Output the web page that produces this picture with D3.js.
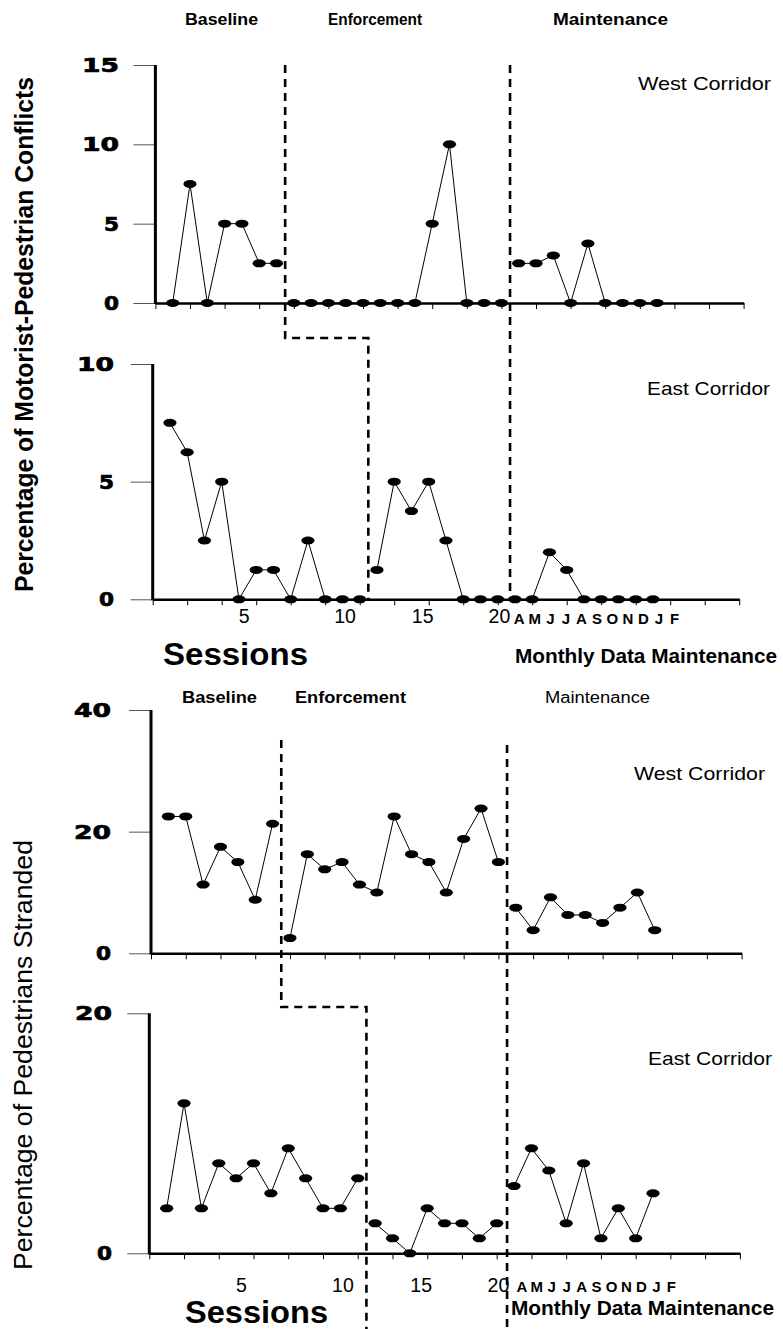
<!DOCTYPE html>
<html>
<head>
<meta charset="utf-8">
<script src="https://cdn.jsdelivr.net/npm/d3@7"></script>
<style>
  html, body { margin: 0; padding: 0; background: #fff; }
  svg { display: block; }
  text { font-family: "Liberation Sans", Arial, sans-serif; fill: #000; }
</style>
</head>
<body>
<script>
// ---------------- DATA ----------------
// Percentage of motorist-pedestrian conflicts
const westConflictBaseline    = [0, 7.5, 0, 5, 5, 2.5, 2.5];                     // sessions 1-7
const westConflictEnforcement = [0, 0, 0, 0, 0, 0, 0, 0, 5, 10, 0, 0, 0];        // sessions 8-20
const westConflictMaintenance = [2.5, 2.5, 3, 0, 3.75, 0, 0, 0, 0];              // months A-D

const eastConflictBaseline    = [7.5, 6.25, 2.5, 5, 0, 1.25, 1.25, 0, 2.5, 0, 0, 0]; // sessions 1-12
const eastConflictEnforcement = [1.25, 5, 3.75, 5, 2.5, 0, 0, 0];                     // sessions 13-20
const eastConflictMaintenance = [0, 0, 2, 1.25, 0, 0, 0, 0, 0];

// Percentage of pedestrians stranded
const westStrandedBaseline    = [22.5, 22.5, 11.3, 17.5, 15, 8.8, 21.3];
const westStrandedEnforcement = [2.5, 16.3, 13.8, 15, 11.3, 10, 22.5, 16.3, 15, 10, 18.8, 23.8, 15];
const westStrandedMaintenance = [7.5, 3.8, 9.2, 6.3, 6.3, 5, 7.5, 10, 3.8];

const eastStrandedBaseline    = [3.75, 12.5, 3.75, 7.5, 6.25, 7.5, 5, 8.75, 6.25, 3.75, 3.75, 6.25];
const eastStrandedEnforcement = [2.5, 1.25, 0, 3.75, 2.5, 2.5, 1.25, 2.5];
const eastStrandedMaintenance = [5.6, 8.75, 6.9, 2.5, 7.5, 1.25, 3.75, 1.25, 5];

// Tick values / labels
const westConflictTicks = [0, 5, 10, 15];
const eastConflictTicks = [0, 5, 10];
const westStrandedTicks = [0, 20, 40];
const eastStrandedTicks = [0, 20];
const sessionTickLabels = ["5", "10", "15", "20"];
const sessionTickAt     = [5.3, 11.15, 15.65, 20.1];
const monthLabels = ["A", "M", "J", "J", "A", "S", "O", "N", "D", "J", "F"];
const phaseLabels = ["Baseline", "Enforcement", "Maintenance"];
const maintenanceStart = 21;
const sessionDomain = [0, 34];

// ---------------- LAYOUT ----------------
const W = 783, H = 1329;
const svg = d3.select("body").append("svg").attr("width", W).attr("height", H);

function fitText(g, str, x0, x1, y, size, weight, adjust) {
  return g.append("text")
    .attr("x", x0).attr("y", y)
    .attr("font-size", size)
    .attr("font-weight", weight || "normal")
    .attr("textLength", x1 - x0)
    .attr("lengthAdjust", adjust || "spacingAndGlyphs")
    .text(str);
}

const panels = [
  { axisX: 155.4, step: 17.3,  yTop: 65,    y0: 303,    yMax: 15, ticks: westConflictTicks, labelRight: 119,
    phases: [westConflictBaseline, westConflictEnforcement, westConflictMaintenance] },
  { axisX: 152.7, step: 17.25, yTop: 364,   y0: 599.3,  yMax: 10, ticks: eastConflictTicks, labelRight: 114,
    phases: [eastConflictBaseline, eastConflictEnforcement, eastConflictMaintenance] },
  { axisX: 151,   step: 17.37, yTop: 710,   y0: 953.3,  yMax: 40, ticks: westStrandedTicks, labelRight: 111,
    phases: [westStrandedBaseline, westStrandedEnforcement, westStrandedMaintenance] },
  { axisX: 149.3, step: 17.37, yTop: 1013.3, y0: 1253.3, yMax: 20, ticks: eastStrandedTicks, labelRight: 112,
    phases: [eastStrandedBaseline, eastStrandedEnforcement, eastStrandedMaintenance] }
];

panels.forEach(p => {
  p.x = d3.scaleLinear().domain(sessionDomain).range([p.axisX, p.axisX + p.step * (sessionDomain[1] - sessionDomain[0])]);
  p.y = d3.scaleLinear().domain([0, p.yMax]).range([p.y0, p.yTop]);
});

// ---------------- PHASE LINES (dashed) ----------------
const dash = g => g.attr("fill", "none").attr("stroke", "#000").attr("stroke-width", 2.6).attr("stroke-dasharray", "8,6");
const [P1, P2, P3, P4] = panels;
const westPhase = westConflictBaseline.length + 0.5;
const eastPhase = eastConflictBaseline.length + 0.5;
const maintPhase = maintenanceStart - 0.5;

svg.append("path").call(dash)
  .attr("d", `M${P1.x(westPhase)},${P1.yTop} V338 H${P2.x(eastPhase)} V${P2.y0}`);
svg.append("path").call(dash)
  .attr("d", `M${P1.x(maintPhase)},${P1.yTop} V${P2.y0}`);
svg.append("path").call(dash)
  .attr("d", `M${P3.x(westPhase)},740 V1007 H${P4.x(eastPhase)} V${H}`);
svg.append("path").call(dash)
  .attr("d", `M${P3.x(maintPhase)},745 V${H}`);

// ---------------- PANELS ----------------
panels.forEach(p => {
  const g = svg.append("g");

  // y ticks (thin grey lines)
  const yAx = g.append("g").attr("transform", `translate(${p.axisX},0)`)
    .call(d3.axisLeft(p.y).tickValues(p.ticks).tickSize(22).tickSizeOuter(0).tickFormat(""));
  yAx.select(".domain").remove();
  yAx.selectAll(".tick line").attr("stroke", "#555").attr("stroke-width", 1);

  // y tick labels (heavy, wide digits)
  p.ticks.forEach(v => {
    const s = String(v);
    const w = s.length === 1 ? 15 : 37;
    fitText(g, s, p.labelRight - w, p.labelRight, p.y(v) + 7, 19, "bold", "spacingAndGlyphs")
      .style("font-family", "'DejaVu Sans', sans-serif")
      .attr("stroke", "#000").attr("stroke-width", 0.7);
  });

  // x axis
  const xAx = g.append("g").attr("transform", `translate(0,${p.y0})`)
    .call(d3.axisBottom(p.x).tickValues(d3.range(sessionDomain[0], sessionDomain[1] + 1, 2))
      .tickSize(6).tickSizeOuter(0).tickFormat(""));
  xAx.select(".domain").attr("stroke", "#000").attr("stroke-width", 2.4);
  xAx.selectAll(".tick line").attr("stroke", "#000").attr("stroke-width", 1);

  // y axis line
  g.append("line")
    .attr("x1", p.axisX).attr("x2", p.axisX)
    .attr("y1", p.y(p.yMax)).attr("y2", p.y0 + 1)
    .attr("stroke", "#000").attr("stroke-width", 3);

  // series: each phase drawn separately (no connection across phase lines)
  const starts = [1, p.phases[0].length + 1, maintenanceStart];
  const line = d3.line().x(d => p.x(d.s)).y(d => p.y(d.v));
  p.phases.forEach((vals, i) => {
    const pts = vals.map((v, k) => ({ s: starts[i] + k, v }));
    g.append("path").datum(pts)
      .attr("d", line).attr("fill", "none").attr("stroke", "#000").attr("stroke-width", 1);
    g.selectAll(null).data(pts).enter().append("ellipse")
      .attr("cx", d => p.x(d.s)).attr("cy", d => p.y(d.v))
      .attr("rx", 6.6).attr("ry", 4).attr("fill", "#000");
  });
});

// ---------------- TEXT ----------------
// Phase labels
fitText(svg, phaseLabels[0], 185, 258, 25, 16, "bold");
fitText(svg, phaseLabels[1], 328, 422, 25, 16, "bold");
fitText(svg, phaseLabels[2], 553, 668, 25, 16, "bold");
fitText(svg, phaseLabels[0], 182, 257, 703, 16, "bold");
fitText(svg, phaseLabels[1], 295, 406, 703, 16, "bold");
fitText(svg, phaseLabels[2], 545, 650, 703, 16, "normal");

// Corridor labels
fitText(svg, "West Corridor", 638, 771, 90, 19);
fitText(svg, "East Corridor", 647, 770, 395, 19);
fitText(svg, "West Corridor", 634, 765, 780, 19);
fitText(svg, "East Corridor", 648, 772, 1065, 19);

// Session tick labels and month labels under panels 2 and 4
[[P2, 623, [21.25, 30.25]], [P4, 1291.5, [21.45, 30.05]]].forEach(([p, base, mRange]) => {
  sessionTickLabels.forEach((t, i) => {
    svg.append("text").attr("x", p.x(sessionTickAt[i])).attr("y", base)
      .attr("text-anchor", "middle").attr("font-size", 19.5).text(t);
  });
  const mx = d3.scalePoint().domain(d3.range(monthLabels.length)).range([p.x(mRange[0]), p.x(mRange[1])]);
  monthLabels.forEach((m, i) => {
    svg.append("text").attr("x", mx(i)).attr("y", base + 0.5)
      .attr("text-anchor", "middle").attr("font-size", 15).attr("font-weight", "bold").text(m);
  });
});

// Axis titles
fitText(svg, "Sessions", 163, 308, 665, 31, "bold");
fitText(svg, "Monthly Data Maintenance", 515, 777, 663, 20, "bold");
fitText(svg, "Sessions", 185, 328, 1323, 31, "bold");
fitText(svg, "Monthly Data Maintenance", 511, 774, 1315, 20, "bold");

// Rotated y titles
svg.append("text")
  .attr("transform", "translate(33,334.5) rotate(-90)")
  .attr("text-anchor", "middle").attr("font-size", 25).attr("font-weight", "bold")
  .attr("textLength", 515).attr("lengthAdjust", "spacingAndGlyphs")
  .text("Percentage of Motorist-Pedestrian Conflicts");
svg.append("text")
  .attr("transform", "translate(32,1055) rotate(-90)")
  .attr("text-anchor", "middle").attr("font-size", 26)
  .attr("textLength", 430).attr("lengthAdjust", "spacingAndGlyphs")
  .text("Percentage of Pedestrians Stranded");
</script>
</body>
</html>
